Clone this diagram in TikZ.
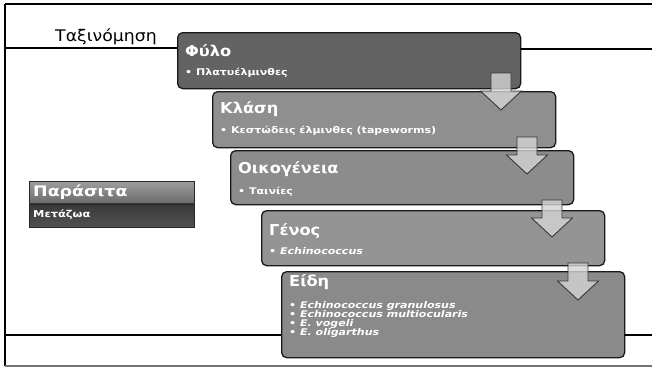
\documentclass[tikz,border=0pt]{standalone}
\usepackage{fontspec}
\setmainfont{DejaVu Sans}[FakeStretch=1.2]
\newfontfamily\titlefont{DejaVu Sans}[FakeStretch=1.08]
\begin{document}
\begin{tikzpicture}[x=1pt,y=-1pt,
  framerule/.style={line width=1.6pt, black},
  taxbox/.style={draw=black!90, line width=1.3pt, rounded corners=5pt,
    anchor=north west, minimum width=343pt, minimum height=56pt, inner sep=0pt},
  boxtitle/.style={anchor=base west, inner sep=0pt, text=white!96,
    font=\titlefont\bfseries\fontsize{15}{17}\selectfont},
  boxitem/.style={anchor=base west, inner sep=0pt, text=white!96,
    font=\bfseries\fontsize{9.2}{10}\selectfont},
  downarrow/.pic={
    \draw[draw=black!78, line width=0.9pt, fill=black!17, fill opacity=0.8, line join=miter]
      (-10,0) -- (10,0) -- (10,18) -- (20.5,18) -- (0,37) -- (-20.5,18) -- (-10,18) -- cycle;
  }]
\useasboundingbox (0,0) rectangle (652,367);

% outer frame
\coordinate (tl) at (5,4);
\coordinate (tr) at (652,4);
\coordinate (bl) at (5,366);
\coordinate (br) at (652,366);
\draw[framerule] (tl) -- (tr);
\draw[framerule] (tl) -- (bl);
\draw[line width=1.2pt, black!55] (bl) -- (br);

\node[anchor=base west, inner sep=0pt, font=\titlefont\fontsize{16}{19}\selectfont] (heading) at (55,41) {Ταξινόμηση};

% taxonomy boxes
\node[taxbox, fill=black!61] (phylo) at (177,32) {};
\node[taxbox, fill=black!44] (klasi) at (212,91) {};
\node[taxbox, fill=black!45, minimum height=54pt] (oikog) at (230,150) {};
\node[taxbox, fill=black!42, minimum height=55pt] (genos) at (261,210) {};
\node[taxbox, fill=black!46, minimum height=86pt] (eidi) at (281,271) {};

% rules beside the first and last boxes
\coordinate (ruleL) at (5,48);
\coordinate (ruleR) at (652,49);
\coordinate (ruleBL) at (5,335);
\coordinate (ruleBR) at (652,335);
\draw[framerule] (ruleL) -- (ruleL -| phylo.west);
\draw[framerule] (ruleR -| phylo.east) -- (ruleR);
\draw[framerule] (ruleBL) -- (ruleBL -| eidi.west);
\draw[framerule] (ruleBR -| eidi.east) -- (ruleBR);

% titles and items
\node[boxtitle] (phylo-t) at ([xshift=8pt,yshift=-24pt]phylo.north west) {Φύλο};
\node[boxitem] (phylo-i) at ([xshift=8pt,yshift=-43pt]phylo.north west) {• Πλατυέλμινθες};

\node[boxtitle] (klasi-t) at ([xshift=8pt,yshift=-22pt]klasi.north west) {Κλάση};
\node[boxitem] (klasi-i) at ([xshift=8pt,yshift=-42pt]klasi.north west) {• Κεστώδεις έλμινθες (tapeworms)};

\node[boxtitle] (oikog-t) at ([xshift=8pt,yshift=-23pt]oikog.north west) {Οικογένεια};
\node[boxitem] (oikog-i) at ([xshift=8pt,yshift=-44pt]oikog.north west) {• Ταινίες};

\node[boxtitle] (genos-t) at ([xshift=8pt,yshift=-25pt]genos.north west) {Γένος};
\node[boxitem] (genos-i) at ([xshift=8pt,yshift=-44pt]genos.north west) {• \textit{Echinococcus}};

\node[boxtitle] (eidi-t) at ([xshift=8pt,yshift=-15pt]eidi.north west) {Είδη};
\node[boxitem] (eidi-1) at ([xshift=8pt,yshift=-37pt]eidi.north west) {• \textit{Echinococcus granulosus}};
\node[boxitem] (eidi-2) at ([yshift=-9pt]eidi-1.base west) {• \textit{Echinococcus multiocularis}};
\node[boxitem] (eidi-3) at ([yshift=-9pt]eidi-2.base west) {• \textit{E. vogeli}};
\node[boxitem] (eidi-4) at ([yshift=-9pt]eidi-3.base west) {• \textit{E. oligarthus}};

% arrows between consecutive ranks
\coordinate (a1) at (501,73);
\coordinate (a2) at (527,137);
\coordinate (a3) at (552,200);
\coordinate (a4) at (578,263);
\pic at (a1) {downarrow};
\pic at (a2) {downarrow};
\pic at (a3) {downarrow};
\pic at (a4) {downarrow};

% side label
\node[anchor=north west, minimum width=165pt, minimum height=22pt, inner sep=0pt,
  top color=black!38, bottom color=black!58, draw=black!85, line width=0.6pt] (par-top) at (29,181) {};
\node[anchor=north west, minimum width=165pt, minimum height=23pt, inner sep=0pt,
  top color=black!78, bottom color=black!68, draw=black!85, line width=0.6pt] (par-bot) at (par-top.south west) {};
\node[anchor=base west, inner sep=0pt, text=white, font=\bfseries\fontsize{14.5}{16}\selectfont] (par-t) at (33,196) {Παράσιτα};
\node[anchor=base west, inner sep=0pt, text=white, font=\bfseries\fontsize{9.5}{12}\selectfont] (par-b) at (33,217) {Μετάζωα};
\end{tikzpicture}
\end{document}
